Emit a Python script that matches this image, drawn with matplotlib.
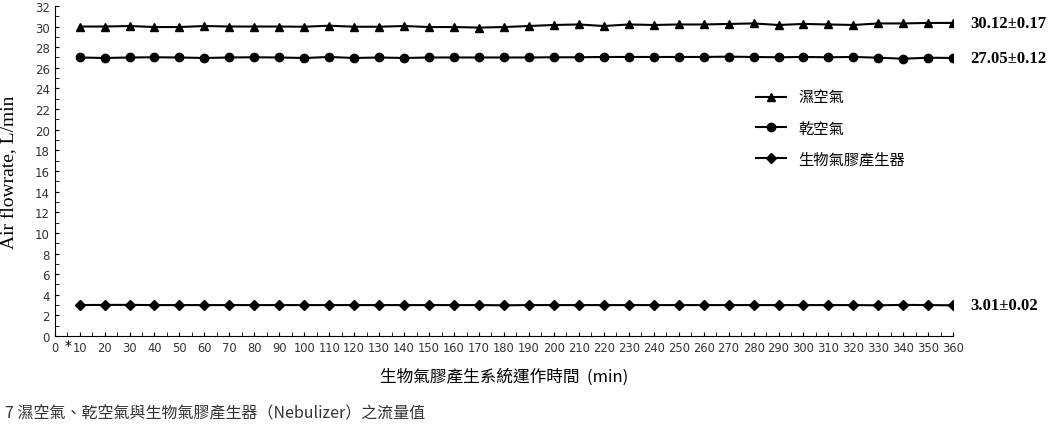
import numpy as np
import matplotlib
matplotlib.use("Agg")
import matplotlib.pyplot as plt
from matplotlib.ticker import MultipleLocator

cjk = ["Noto Sans CJK TC", "DejaVu Sans"]

times = list(range(10, 361, 10))
wet_air = [30.0, 30.0, 30.05, 29.95, 29.95, 30.05, 30.0, 30.0, 30.0, 29.98, 30.08, 29.98,
           29.98, 30.05, 29.95, 29.95, 29.9, 29.95, 30.05, 30.15, 30.2, 30.05, 30.2, 30.15,
           30.2, 30.2, 30.25, 30.3, 30.15, 30.25, 30.2, 30.15, 30.3, 30.3, 30.35, 30.35]
dry_air = [27.0, 26.95, 27.0, 27.02, 27.0, 26.95, 27.0, 27.02, 27.0, 26.95, 27.05, 26.95,
           27.0, 26.95, 27.0, 27.0, 27.0, 27.0, 27.0, 27.02, 27.02, 27.05, 27.05, 27.05,
           27.05, 27.05, 27.08, 27.05, 27.02, 27.05, 27.02, 27.05, 26.98, 26.88, 26.98, 26.95]
nebulizer = [3.0, 3.02, 3.02, 3.0, 3.0, 3.0, 3.0, 3.0, 3.0, 3.0, 3.0, 3.0,
             3.0, 3.0, 3.0, 3.0, 3.0, 2.98, 3.0, 3.0, 3.0, 3.0, 3.0, 3.0,
             3.0, 3.0, 3.0, 3.0, 3.0, 3.0, 3.0, 3.0, 2.98, 3.02, 3.0, 2.98]
names = ["濕空氣", "乾空氣", "生物氣膠產生器"]
end_labels = ["30.12±0.17", "27.05±0.12", "3.01±0.02"]

fig = plt.figure(figsize=(10.51, 4.31), dpi=100)
ax = fig.add_axes([0.052, 0.218, 0.855, 0.766])

ax.plot(times, wet_air, "k-^", ms=6, lw=1.5, label=names[0])
ax.plot(times, dry_air, "k-o", ms=6, lw=1.5, label=names[1])
ax.plot(times, nebulizer, "k-D", ms=5, lw=1.5, label=names[2])

ax.set_xlim(0, 360)
ax.set_ylim(0, 32)
ax.set_xticks(range(0, 361, 10))
ax.set_xticklabels([str(t) for t in range(0, 361, 10)], fontsize=8.3, color="#333333")
ax.xaxis.set_minor_locator(MultipleLocator(5))
ax.yaxis.set_major_locator(MultipleLocator(2))
ax.yaxis.set_minor_locator(MultipleLocator(1))
ax.tick_params(axis="y", labelsize=8.5, labelcolor="#333333")
ax.tick_params(which="both", direction="in", length=3)
for s in ["top", "right"]:
    ax.spines[s].set_visible(False)
ax.text(5.5, -0.9, "*", fontsize=10, ha="center", va="center")

for y, lab in zip([wet_air[-1], dry_air[-1], nebulizer[-1]], end_labels):
    ax.annotate(lab, (360, y), xytext=(12, 0), textcoords="offset points",
                va="center", ha="left", fontsize=12, fontweight="bold",
                family="Liberation Serif", annotation_clip=False)

ax.set_ylabel("Air flowrate, L/min", family="Liberation Serif", fontsize=14, labelpad=12)
ax.set_xlabel("生物氣膠產生系統運作時間  (min)", family=cjk, fontsize=12, labelpad=10)

leg = ax.legend(loc="upper left", bbox_to_anchor=(0.765, 0.79), frameon=False,
                prop={"family": cjk, "size": 11}, handlelength=2, labelspacing=0.9)

fig.text(0.005, 0.03, "7 濕空氣、乾空氣與生物氣膠產生器（Nebulizer）之流量值",
         family=cjk, fontsize=11.5, color="#333333")

fig.savefig("out.png", dpi=100)
